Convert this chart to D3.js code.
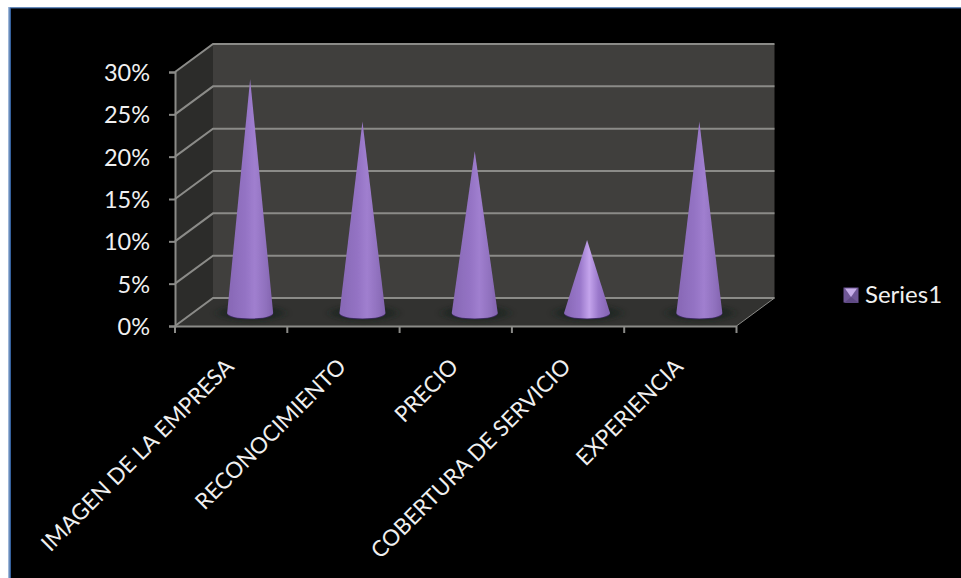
<!DOCTYPE html>
<html>
<head>
<meta charset="utf-8">
<script src="https://cdn.jsdelivr.net/npm/d3@7/dist/d3.min.js"></script>
<style>
html,body{margin:0;padding:0;background:#fff}
svg{display:block}
text{font-family:Lato,"Open Sans",sans-serif;fill:#f0f0f0}
</style>
</head>
<body>
<svg id="chart" width="961" height="578"></svg>
<script>
const categories = ["IMAGEN DE LA EMPRESA","RECONOCIMIENTO","PRECIO","COBERTURA DE SERVICIO","EXPERIENCIA"];
const series1 = [0.275,0.225,0.19,0.085,0.225];
const yTicks = [0,0.05,0.1,0.15,0.2,0.25,0.3];
const seriesName = "Series1";

const svg = d3.select("#chart");
const defs = svg.append("defs");

// Oblique projection: the box depth shifts things right and up
const depth = {dx:38, dy:-28};
const x = d3.scaleBand().domain(categories).range([175,736.5]);
const y = d3.scaleLinear().domain([0,0.3]).range([326,72]);
const mid = {dx:depth.dx/2, dy:depth.dy/2};

// Page background with the blue frame at top and left
svg.append("rect").attr("x",8).attr("y",7).attr("width",953).attr("height",571).attr("fill","#9db6d8");
svg.append("rect").attr("x",9.5).attr("y",7.5).attr("width",951.5).attr("height",570.5).attr("fill","#35609c");
svg.append("rect").attr("x",11).attr("y",8.5).attr("width",950).attr("height",569.5).attr("fill","#000");

const [x0,x1] = x.range();
const yBase = y(0), yTop = y(0.3);
const poly = pts => pts.map(p=>p.join(",")).join(" ");

// Back wall, side wall and floor
svg.append("polygon").attr("fill","#403f3d")
  .attr("points",poly([[x0+depth.dx,yTop+depth.dy],[x1+depth.dx,yTop+depth.dy],[x1+depth.dx,yBase+depth.dy],[x0+depth.dx,yBase+depth.dy]]));
svg.append("polygon").attr("fill","#2c2c2a")
  .attr("points",poly([[x0,yTop],[x0+depth.dx,yTop+depth.dy],[x0+depth.dx,yBase+depth.dy],[x0,yBase]]));
svg.append("polygon").attr("fill","#323230")
  .attr("points",poly([[x0,yBase],[x0+depth.dx,yBase+depth.dy],[x1+depth.dx,yBase+depth.dy],[x1,yBase]]));

// Gridlines run along the side wall and across the back wall
const gridColor = "#8b8b88";
const grid = svg.append("g").attr("fill","none").attr("stroke",gridColor).attr("stroke-width",2);
grid.selectAll("polyline").data(yTicks).join("polyline")
  .attr("points",d=>poly([[x0,y(d)],[x0+depth.dx,y(d)+depth.dy],[x1+depth.dx,y(d)+depth.dy]]));

// Front axes with d3-axis ticks
const axisY = svg.append("g").attr("transform",`translate(${x0},0)`)
  .call(d3.axisLeft(y).tickValues(yTicks).tickFormat(d3.format(".0%")).tickSize(6).tickPadding(19));
axisY.selectAll("path,line").attr("stroke",gridColor).attr("stroke-width",2);
axisY.selectAll("text").style("font-size","23.5px").attr("dy","0.36em");

const axisX = svg.append("g").attr("transform",`translate(0,${yBase})`)
  .call(d3.axisBottom(x).tickSize(0).tickFormat(""));
axisX.select("path").attr("stroke",gridColor).attr("stroke-width",2);
axisX.selectAll(".tick").remove();
svg.append("g").attr("stroke",gridColor).attr("stroke-width",2)
  .selectAll("line").data(d3.range(categories.length+1)).join("line")
  .attr("x1",i=>x0+i*x.bandwidth()).attr("x2",i=>x0+i*x.bandwidth())
  .attr("y1",yBase).attr("y2",yBase+7);
svg.append("line").attr("x1",x1).attr("y1",yBase).attr("x2",x1+depth.dx).attr("y2",yBase+depth.dy)
  .attr("stroke",gridColor).attr("stroke-width",1);

// Slanted category labels, ending under their ticks
svg.append("g").selectAll("text").data(categories).join("text")
  .attr("text-anchor","end")
  .style("font-size","22.3px")
  .attr("transform",d=>`translate(${x(d)+x.bandwidth()/2+4},${yBase+42}) rotate(-45)`)
  .text(d=>d);

// Cone shading: soft edge, bright band near the axis
const shade = (id,stops)=>{
  const g = defs.append("linearGradient").attr("id",id);
  stops.forEach(([o,c])=>g.append("stop").attr("offset",o).attr("stop-color",c));
};
shade("coneFill",[[0,"#8768b5"],[0.4,"#9473c4"],[0.6,"#a07fcf"],[0.85,"#8f70bd"],[1,"#8263ae"]]);
shade("coneFillShort",[[0,"#8666b4"],[0.35,"#9a78cb"],[0.55,"#c4a4ec"],[0.75,"#9a78cb"],[1,"#8263b0"]]);
defs.append("filter").attr("id","soft").attr("x","-40%").attr("y","-100%").attr("width","180%").attr("height","300%")
  .append("feGaussianBlur").attr("stdDeviation","4 2");
defs.append("filter").attr("id","edge").attr("x","-20%").attr("y","-5%").attr("width","140%").attr("height","110%")
  .append("feGaussianBlur").attr("stdDeviation","0.5");

const rx = 23, ry = 5.5;
const cones = svg.append("g");
categories.forEach((c,i)=>{
  const v = series1[i];
  const cx = x(c)+x.bandwidth()/2+mid.dx;
  const by = y(0)+mid.dy+1;
  const ty = y(v)+mid.dy;
  const g = cones.append("g");
  // Contact shadow on the floor
  g.append("ellipse").attr("cx",cx+1).attr("cy",by).attr("rx",rx+10).attr("ry",ry+2)
    .attr("fill","#15201c").attr("opacity",0.65).attr("filter","url(#soft)");
  // Dark rim along the front of the base
  g.append("ellipse").attr("cx",cx).attr("cy",by+0.8).attr("rx",rx).attr("ry",ry)
    .attr("fill","#3d2a60");
  // Cone body
  g.append("path")
    .attr("d",`M${cx},${ty} L${cx+rx},${by} A${rx},${ry} 0 0 1 ${cx-rx},${by} Z`)
    .attr("fill",`url(#${v<0.1?"coneFillShort":"coneFill"})`)
    .attr("filter","url(#edge)");
});

// Legend swatch: a small box with a pale downward wedge, and the series name
const lg = svg.append("g");
lg.append("rect").attr("x",843.5).attr("y",287.5).attr("width",15).attr("height",15).attr("fill","#6f5796");
lg.append("polygon").attr("points",poly([[845,288.5],[857,288.5],[851,297]])).attr("fill","#c6aee8");
lg.append("polygon").attr("points",poly([[844,303],[859,303],[851,297]])).attr("fill","#5f4a84");
lg.append("text").attr("x",865).attr("y",303).style("font-size","24px").text(seriesName);
</script>
</body>
</html>
